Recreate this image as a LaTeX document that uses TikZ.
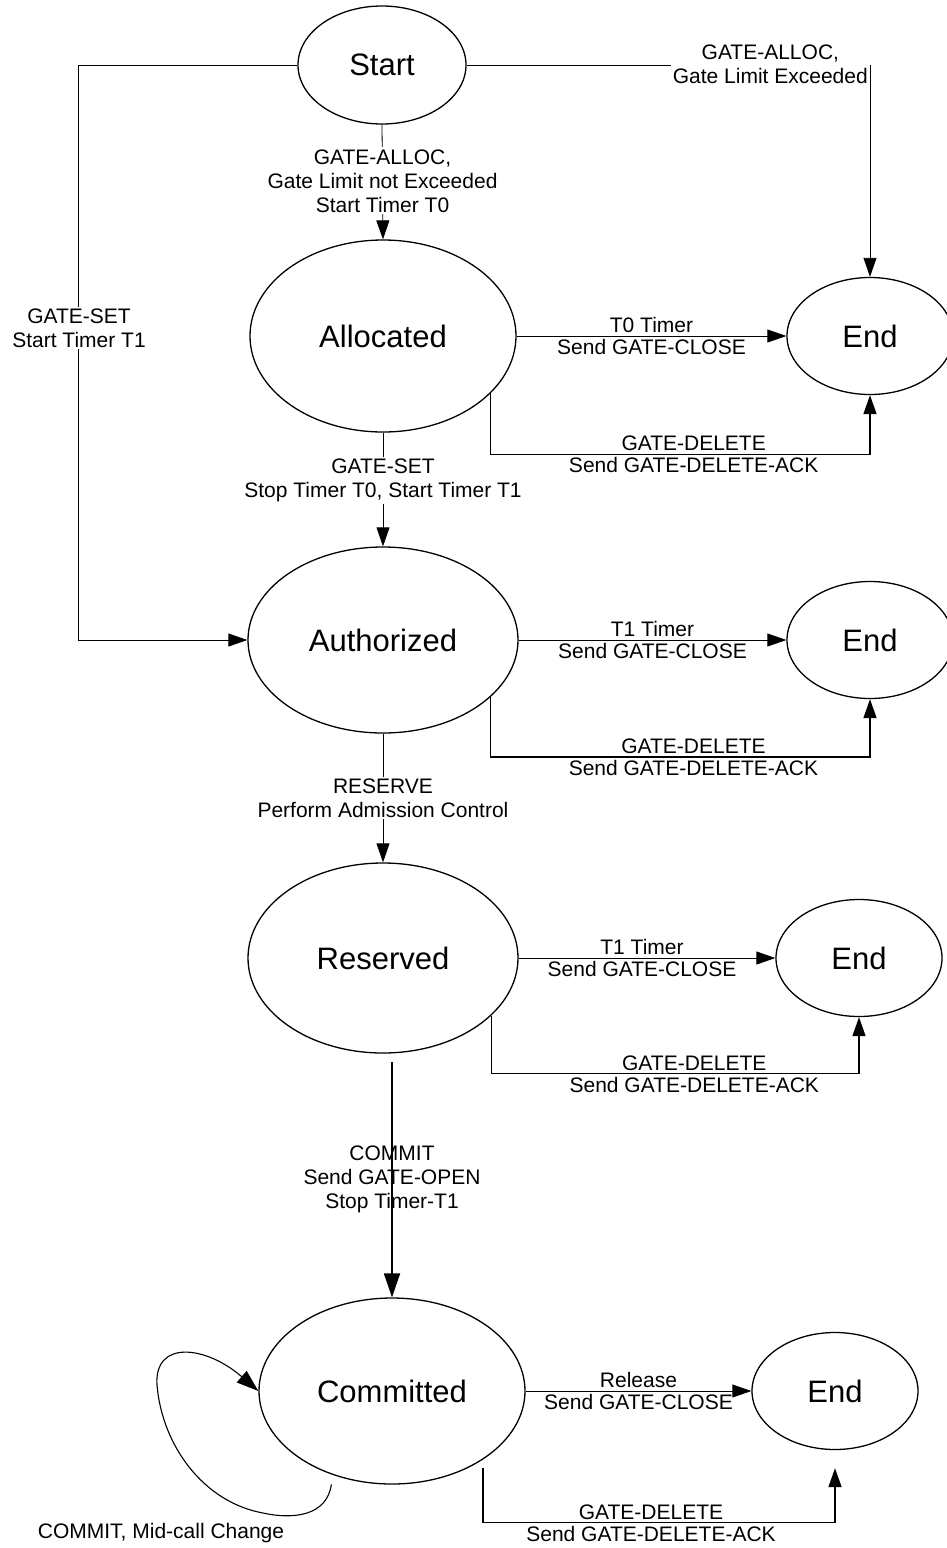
\documentclass[tikz,border=0pt]{standalone}
\usepackage{fontspec}
\setmainfont{Liberation Sans}
\usetikzlibrary{shapes.geometric,arrows.meta,calc}
\begin{document}
\begin{tikzpicture}[x=1pt,y=-1pt,
  state/.style={ellipse, draw, line width=1.3pt, inner sep=0pt, font=\fontsize{31}{36}\selectfont},
  endstate/.style={state, minimum width=166pt, minimum height=117pt},
  lbl/.style={font=\fontsize{21}{24}\selectfont, align=center, inner sep=2pt},
  conn/.style={line width=0.8pt},
  del/.style={line width=1.5pt},
  heavy/.style={line width=1.8pt},
  tip/.style={-{Triangle[length=19pt,width=13pt]}},
  bigtip/.style={-{Triangle[length=24pt,width=16pt]}},
  looptip/.style={-{Triangle[length=22pt,width=15pt]}}]
\useasboundingbox (0,0) rectangle (947,1548);

% states
\node[state, minimum width=168pt, minimum height=118pt] (start) at (382,65) {Start};
\node[state, minimum width=266pt, minimum height=192pt] (alloc) at (383,336) {Allocated};
\node[endstate] (end1) at (870,336) {End};
\node[state, minimum width=270pt, minimum height=186pt] (auth) at (383,640) {Authorized};
\node[endstate] (end2) at (870,640) {End};
\node[state, minimum width=270pt, minimum height=190pt] (res) at (383,958) {Reserved};
\node[endstate] (end3) at (859,958) {End};
\node[state, minimum width=266pt, minimum height=186pt] (comm) at (392,1391) {Committed};
\node[endstate] (end4) at (835,1391) {End};

% Start -> End (limit exceeded)
\coordinate (rc) at (870,65);
\draw[conn, tip] (start.east) -- (rc) -- (end1.north);
\node[lbl, fill=white, anchor=east] (lex) at (870,64) {GATE-ALLOC,\\Gate Limit Exceeded};

% Start -> Authorized (left)
\coordinate (lc) at (78,65);
\draw[conn, tip] (start.west) -- (lc) |- (auth.west);
\node[lbl, fill=white] (lset) at (79,328) {GATE-SET\\Start Timer T1};

% column
\draw[conn, tip] (start.south) -- node[lbl, fill=white, pos=0.49] {GATE-ALLOC,\\Gate Limit not Exceeded\\Start Timer T0} (alloc.north);
\draw[conn, tip] (alloc.south) -- node[lbl, fill=white, pos=0.42] {GATE-SET\\Stop Timer T0, Start Timer T1} (auth.north);
\draw[conn, tip] (auth.south) -- node[lbl, fill=white, pos=0.5] {RESERVE\\Perform Admission Control} (res.north);
\draw[heavy, bigtip] ($(res.south -| comm.north)+(0,8)$) -- node[lbl] {COMMIT\\Send GATE-OPEN\\Stop Timer-T1} (comm.north);

% timers / release
\draw[conn, tip] (alloc.east) -- node[lbl, above=1pt] {T0 Timer} node[lbl, below=1pt] {Send GATE-CLOSE} (end1.west);
\draw[conn, tip] (auth.east) -- node[lbl, above=1pt] {T1 Timer} node[lbl, below=1pt] {Send GATE-CLOSE} (end2.west);
\draw[conn, tip] (res.east) -- node[lbl, above=1pt, xshift=-5pt] {T1 Timer} node[lbl, below=1pt, xshift=-5pt] {Send GATE-CLOSE} (end3.west);
\draw[conn, tip] (comm.east) -- node[lbl, above=1pt] {Release} node[lbl, below=1pt] {Send GATE-CLOSE} (end4.west);

% GATE-DELETE paths
\draw[del, tip] (alloc.-28) -- ++(0,61) coordinate (d1) -| (end1.south);
\path (d1) ++(203,0) node[lbl, above=1pt] {GATE-DELETE} node[lbl, below=1pt] {Send GATE-DELETE-ACK};
\draw[del, tip] (auth.-28) -- ++(0,60) coordinate (d2) -| (end2.south);
\path (d2) ++(203,0) node[lbl, above=1pt] {GATE-DELETE} node[lbl, below=1pt] {Send GATE-DELETE-ACK};
\draw[del, tip] (res.-28) -- ++(0,58) coordinate (d3) -| (end3.south);
\path (d3) ++(203,0) node[lbl, above=1pt] {GATE-DELETE} node[lbl, below=1pt] {Send GATE-DELETE-ACK};
\draw[del, tip] ([yshift=-8pt]comm.-37) -- ++(0,55) coordinate (d4) -| ([yshift=-18pt]end4.south);
\path (d4) ++(168,0) node[lbl, above=1pt] {GATE-DELETE} node[lbl, below=1pt] {Send GATE-DELETE-ACK};

% self loop
\draw[conn, line width=1.1pt, looptip] ([yshift=-10pt]comm.-126) .. controls (327,1515) and (295,1520) .. (263,1513)
  .. controls (203,1502) and (162,1445) .. (157,1385)
  .. controls (154,1340) and (205,1345) .. (comm.west);
\node[lbl] (looplbl) at (161,1533) {COMMIT, Mid-call Change};
\end{tikzpicture}
\end{document}
